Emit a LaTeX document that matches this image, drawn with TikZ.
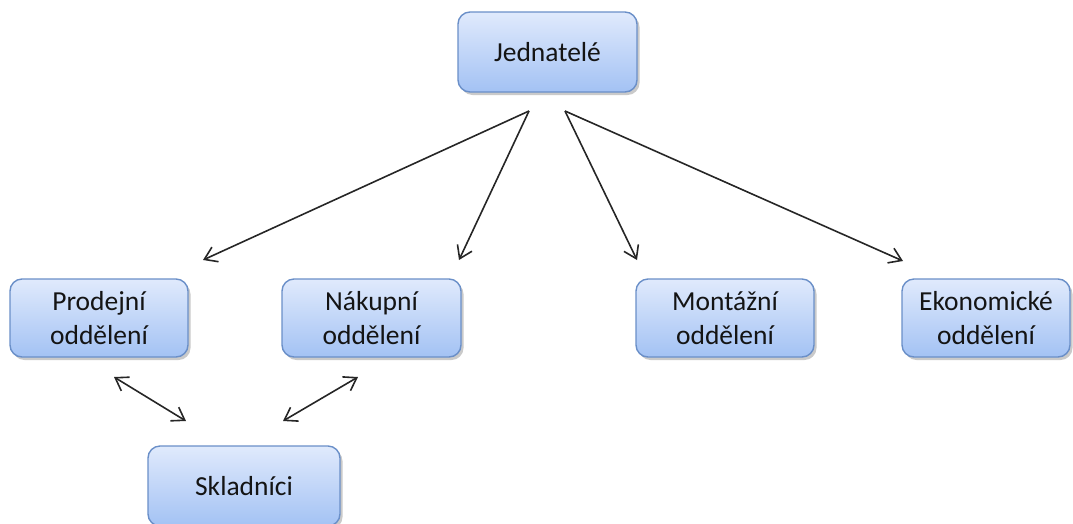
\documentclass[tikz,border=0pt]{standalone}
\usepackage{fontspec}
\setmainfont{Carlito}
\usetikzlibrary{arrows.meta,shadows}
\definecolor{boxtop}{HTML}{E0EAFC}
\definecolor{boxbot}{HTML}{A3C2F4}
\definecolor{boxline}{HTML}{6A8FC8}
\definecolor{txt}{HTML}{141414}
\tikzset{
  unit/.style={rectangle, rounded corners=12pt, draw=boxline, line width=1.4pt,
    top color=boxtop, bottom color=boxbot, align=center, text=txt,
    font=\fontsize{27.5}{34}\selectfont,
    drop shadow={shadow xshift=2.5pt, shadow yshift=-3pt, opacity=0.35, fill=black!60},
    inner sep=0pt},
  tip/.style={},
  link/.style={line width=1.6pt, draw=black!85, -{Straight Barb[length=12pt,width=16pt,line width=1.6pt]}},
  dlink/.style={line width=1.6pt, draw=black!85, {Straight Barb[length=12pt,width=16pt,line width=1.6pt]}-{Straight Barb[length=12pt,width=16pt,line width=1.6pt]}}
}
\begin{document}
\begin{tikzpicture}[x=1pt,y=-1pt]
\useasboundingbox (0,0) rectangle (1073,523);
\node[unit, minimum width=179pt, minimum height=80pt] (jed) at (547.5,52) {Jednatelé};
\node[unit, minimum width=178pt, minimum height=78pt] (pro) at (99,318) {Prodejní\\oddělení};
\node[unit, minimum width=179pt, minimum height=78pt] (nak) at (371.5,318) {Nákupní\\oddělení};
\node[unit, minimum width=178pt, minimum height=78pt] (mon) at (725,318) {Montážní\\oddělení};
\node[unit, minimum width=168pt, minimum height=78pt] (eko) at (986,318) {Ekonomické\\oddělení};
\node[unit, minimum width=192pt, minimum height=80pt] (skl) at (244,486) {Skladníci};
% free ends of connectors
\coordinate (jl) at (529,111);
\coordinate (jr) at (565,111);
\coordinate (pe) at (203,260);
\coordinate (ne) at (459,260);
\coordinate (me) at (637,260);
\coordinate (ee) at (903,261);
\coordinate (pb) at (114,377);
\coordinate (nb) at (358,377);
\coordinate (sl) at (186,421);
\coordinate (sr) at (283,421);
\draw[link] (jl) -- (pe);
\draw[link] (jl) -- (ne);
\draw[link] (jr) -- (me);
\draw[link] (jr) -- (ee);
\draw[dlink] (pb) -- (sl);
\draw[dlink] (nb) -- (sr);
\end{tikzpicture}
\end{document}
